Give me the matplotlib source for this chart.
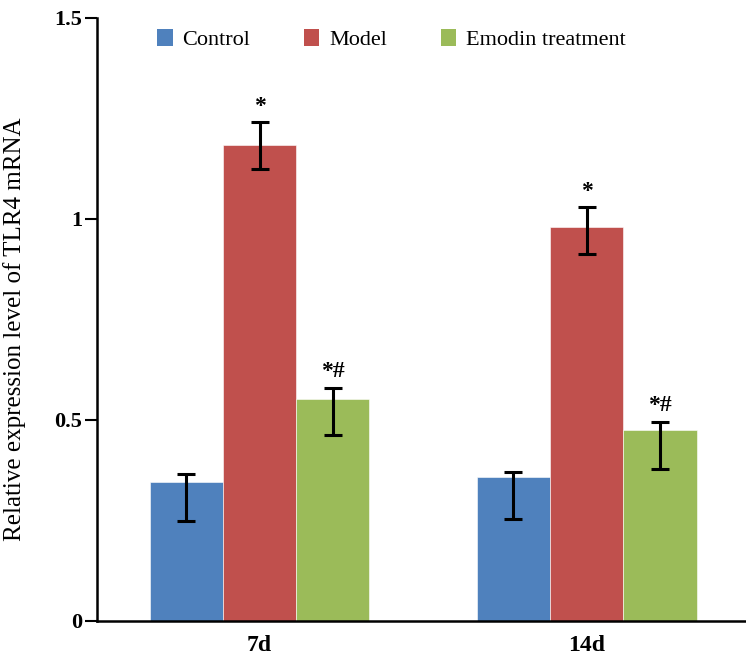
import numpy as np
import matplotlib.pyplot as plt
from matplotlib.patches import Patch

plt.rcParams['font.family'] = ['Liberation Serif', 'DejaVu Serif']

groups = ['7d', '14d']
series = ['Control', 'Model', 'Emodin treatment']
colors = ['#4F81BD', '#C0504D', '#9BBB59']

# bar heights and the error bar ends
means = {
    'Control': [0.346, 0.357],
    'Model': [1.184, 0.980],
    'Emodin treatment': [0.553, 0.475],
}
err_top = {
    'Control': [0.365, 0.370],
    'Model': [1.241, 1.029],
    'Emodin treatment': [0.580, 0.496],
}
err_bottom = {
    'Control': [0.249, 0.253],
    'Model': [1.125, 0.913],
    'Emodin treatment': [0.462, 0.379],
}
marks = {
    'Control': ['', ''],
    'Model': ['*', '*'],
    'Emodin treatment': ['*#', '*#'],
}

fig = plt.figure(figsize=(7.46, 6.56), dpi=100)
ax = fig.add_axes([0.1296, 0.0534, 0.8704, 0.9192])

x = np.arange(len(groups))
width = 0.224
for i, name in enumerate(series):
    pos = x + (i - 1) * width
    vals = np.array(means[name])
    lo = vals - np.array(err_bottom[name])
    hi = np.array(err_top[name]) - vals
    ax.bar(pos, vals, width, color=colors[i], edgecolor='white', linewidth=0.4, label=name)
    ax.errorbar(pos, vals, yerr=[lo, hi], fmt='none', ecolor='black',
                elinewidth=2.2, capsize=6.5, capthick=2.2)
    for p, top, m in zip(pos, err_top[name], marks[name]):
        if m:
            ax.annotate(m, (p, top), xytext=(0, 4), textcoords='offset points',
                        ha='center', va='bottom', fontsize=17, fontweight='bold')

ax.set_xlim(-0.498, 1.487)
ax.set_ylim(0, 1.5)
ax.set_yticks([0, 0.5, 1, 1.5])
ax.set_yticklabels(['0', '0.5', '1', '1.5'], fontsize=16, fontweight='bold')
ax.set_xticks(x)
ax.set_xticklabels(groups, fontsize=17, fontweight='bold')
ax.tick_params(axis='y', direction='out', length=8.4, width=1.5, pad=2)
ax.tick_params(axis='x', length=0, pad=10)
for s in ['top', 'right']:
    ax.spines[s].set_visible(False)
for s in ['left', 'bottom']:
    ax.spines[s].set_linewidth(1.8)
ax.set_ylabel('Relative expression level of TLR4 mRNA', fontsize=18)
ax.yaxis.set_label_coords(-0.109, 0.484)

handles = [Patch(facecolor=c, edgecolor='none') for c in colors]
fig.legend(handles, series, loc='upper left', bbox_to_anchor=(157 / 746, 1 - 29 / 656),
           ncol=3, frameon=False, fontsize=16, handlelength=0.7, handleheight=0.8,
           handletextpad=0.45, columnspacing=2.4, borderpad=0, borderaxespad=0)

fig.savefig('out.png', dpi=100)
